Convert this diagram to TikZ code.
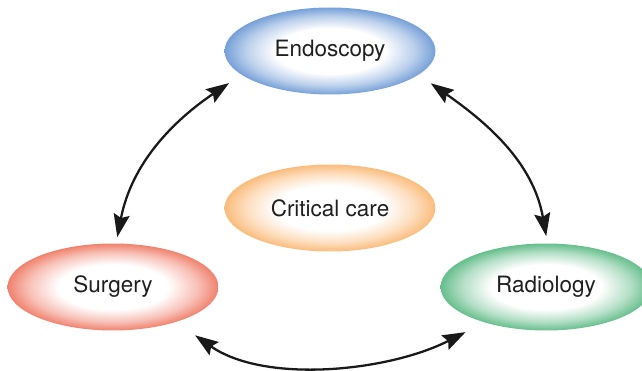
\documentclass[tikz,border=0pt]{standalone}
\usepackage{fontspec}
\setmainfont{TeX Gyre Heros}
\usetikzlibrary{arrows.meta,shapes.geometric}

\definecolor{endoblue}{RGB}{118,160,216}
\definecolor{careorange}{RGB}{250,188,124}
\definecolor{surgred}{RGB}{240,130,110}
\definecolor{radiogreen}{RGB}{102,190,140}

% white core, coloured rim
\pgfdeclareradialshading{endoshade}{\pgfpointorigin}{color(0bp)=(white); color(13bp)=(white); color(20bp)=(endoblue!50); color(25bp)=(endoblue); color(50bp)=(endoblue)}
\pgfdeclareradialshading{careshade}{\pgfpointorigin}{color(0bp)=(white); color(13bp)=(white); color(20bp)=(careorange!50); color(25bp)=(careorange); color(50bp)=(careorange)}
\pgfdeclareradialshading{surgshade}{\pgfpointorigin}{color(0bp)=(white); color(13bp)=(white); color(20bp)=(surgred!50); color(25bp)=(surgred); color(50bp)=(surgred)}
\pgfdeclareradialshading{radioshade}{\pgfpointorigin}{color(0bp)=(white); color(13bp)=(white); color(20bp)=(radiogreen!50); color(25bp)=(radiogreen); color(50bp)=(radiogreen)}

\begin{document}
\begin{tikzpicture}[x=0.02cm, y=0.02cm,
  unit/.style={ellipse, shade, minimum width=4.22cm, minimum height=1.74cm,
    inner sep=0pt, outer sep=0pt, font=\fontsize{12.8}{15}\selectfont, text=black!88},
  link/.style={{Stealth[length=0.46cm,width=0.32cm,inset=0.07cm]}-{Stealth[length=0.46cm,width=0.32cm,inset=0.07cm]},
    line width=1.3pt, black!90}]
  \useasboundingbox (0,0) rectangle (642,371);

  %--- departments ---
  \node[unit, shading=endoshade]  (endo) at (330,320) {Endoscopy};
  \node[unit, shading=careshade]  (care) at (330,163) {Critical care};
  \node[unit, shading=surgshade]  (surg) at (113,84)  {Surgery};
  \node[unit, shading=radioshade] (radi) at (546,84)  {Radiology};

  %--- two-way links ---
  \draw[link, shorten <=0.3cm, shorten >=0.13cm] (endo.195) to[out=214, in=79] (surg.86);
  \draw[link, shorten <=0.3cm, shorten >=0.15cm] (endo.345) to[out=325, in=100] (radi.88);
  \draw[link, shorten <=0.47cm, shorten >=0.43cm] (surg.331) to[out=-35, in=207, looseness=0.9] (radi.210);
\end{tikzpicture}
\end{document}
